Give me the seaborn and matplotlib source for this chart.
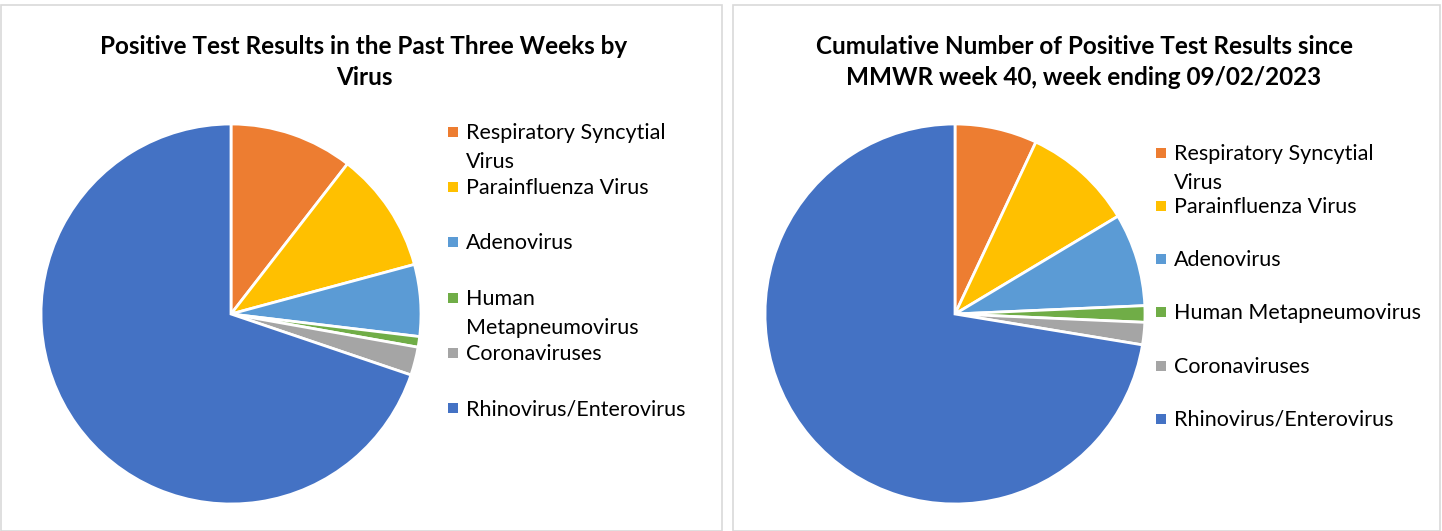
import matplotlib
matplotlib.use("Agg")
import matplotlib.pyplot as plt
from matplotlib.patches import Rectangle
import seaborn as sns

sns.set_theme(style="white")
plt.rcParams['font.family'] = ['Lato', 'DejaVu Sans']

viruses = ["Respiratory Syncytial Virus", "Parainfluenza Virus", "Adenovirus",
           "Human Metapneumovirus", "Coronaviruses", "Rhinovirus/Enterovirus"]
past_three_weeks = [10.5, 10.3, 6.1, 0.9, 2.4, 69.8]
cumulative = [7.0, 9.4, 7.9, 1.4, 1.9, 72.4]
colors = ["#ED7D31", "#FFC000", "#5B9BD5", "#70AD47", "#A5A5A5", "#4472C4"]

left_title = "Positive Test Results in the Past Three Weeks by\nVirus"
right_title = "Cumulative Number of Positive Test Results since\nMMWR week 40, week ending 09/02/2023"
left_labels = ["Respiratory Syncytial\nVirus", "Parainfluenza Virus", "Adenovirus",
               "Human\nMetapneumovirus", "Coronaviruses", "Rhinovirus/Enterovirus"]
right_labels = ["Respiratory Syncytial\nVirus", "Parainfluenza Virus", "Adenovirus",
                "Human Metapneumovirus", "Coronaviruses", "Rhinovirus/Enterovirus"]

W, H = 1442, 531
fig = plt.figure(figsize=(W / 100, H / 100), dpi=100)
fig.patch.set_facecolor("white")

def px(x, y):
    return x / W, 1 - y / H

# panel borders
for x0, x1 in [(1, 722), (733, 1440)]:
    fig.patches.append(Rectangle((x0 / W, 0), (x1 - x0) / W, 1 - 5 / H,
                                 transform=fig.transFigure, fill=False,
                                 edgecolor="#d9d9d9", linewidth=1.2))

def draw_panel(cx, cy, r, values, title, title_cx, labels, mk_x, ys):
    ax = fig.add_axes([(cx - r) / W, 1 - (cy + r) / H, 2 * r / W, 2 * r / H])
    ax.pie(values, colors=colors, startangle=90, counterclock=False,
           wedgeprops=dict(edgecolor="white", linewidth=2), radius=1)
    ax.set_xlim(-1.0, 1.0)
    ax.set_ylim(-1.0, 1.0)
    ax.set_aspect("equal")
    ax.axis("off")
    fig.text(*px(title_cx, 62), title, ha="center", va="center",
             fontsize=17.5, fontweight="bold", color="#000000", linespacing=1.4)
    for lab, col, y in zip(labels, colors, ys):
        fig.patches.append(Rectangle(px(mk_x - 5, y + 5), 10 / W, 10 / H,
                                     transform=fig.transFigure, facecolor=col,
                                     edgecolor="none"))
        fig.text(*px(mk_x + 13, y - 9), lab, ha="left", va="top", fontsize=15.5,
                 color="#000000", linespacing=1.58)

draw_panel(231, 314, 190, past_three_weeks, left_title, 364, left_labels, 453,
           [132, 187, 242, 298, 353, 408])
draw_panel(955, 314, 190, cumulative, right_title, 1084, right_labels, 1161,
           [153, 206, 259, 312, 366, 419])

fig.savefig("out.png", dpi=100, facecolor="white")
